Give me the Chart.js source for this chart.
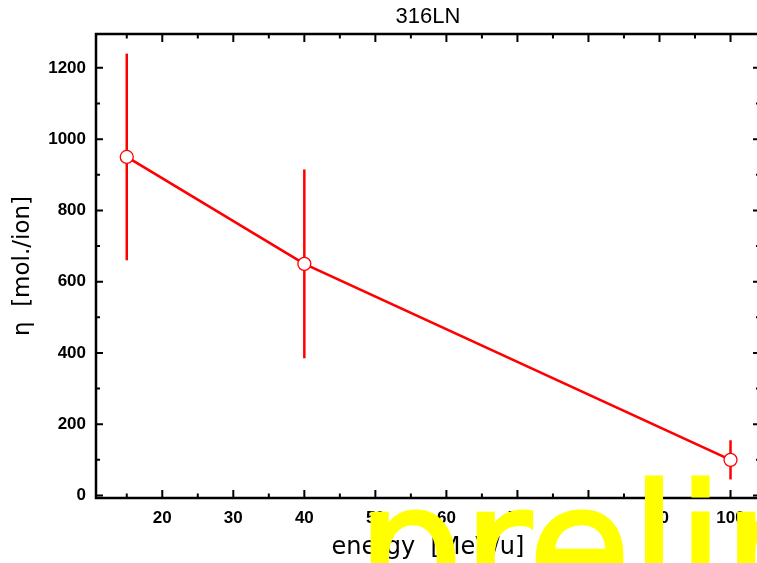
<!DOCTYPE html>
<html>
<head>
<meta charset="utf-8">
<script src="https://cdn.jsdelivr.net/npm/chart.js@4/dist/chart.umd.min.js"></script>
<style>
  html, body { margin: 0; padding: 0; background: #fff; overflow: hidden; }
  #wrap { width: 757px; height: 563px; overflow: hidden; }
</style>
</head>
<body>
<div id="wrap"><canvas id="c" width="760" height="563"></canvas></div>
<script>
// measured points (energy in MeV/u, eta in mol./ion)
const energy = [15, 40, 100];
const eta = [950, 650, 100];
const etaErr = [290, 265, 55];

const X_RANGE = [10.67, 104.15];
const Y_RANGE = [-7, 1295];
const X_STEP = 10;
const Y_STEP = 200;

const TITLE = '316LN';
const X_TITLE = 'energy  [MeV/u]';
const Y_TITLE = 'η  [mol./ion]';
const WATERMARK = 'preliminary';

const RED = '#ff0000';
const TICK_FONT = { family: 'Liberation Sans', size: 17, weight: 'bold' };

// error bars, drawn under the markers
const errorBars = {
  id: 'errorBars',
  beforeDatasetsDraw(chart) {
    const { ctx, scales: { x, y } } = chart;
    ctx.save();
    ctx.strokeStyle = RED;
    ctx.lineWidth = 2.5;
    energy.forEach((e, i) => {
      const px = x.getPixelForValue(e);
      ctx.beginPath();
      ctx.moveTo(px, y.getPixelForValue(eta[i] - etaErr[i]));
      ctx.lineTo(px, y.getPixelForValue(eta[i] + etaErr[i]));
      ctx.stroke();
    });
    ctx.restore();
  },
};

// boxed frame with inward major/minor ticks on all four sides
const frame = {
  id: 'frame',
  afterDraw(chart) {
    const { ctx, chartArea: a, scales: { x, y } } = chart;
    ctx.save();
    ctx.strokeStyle = '#000';
    ctx.lineWidth = 2.5;
    ctx.strokeRect(a.left, a.top, a.right - a.left, a.bottom - a.top);

    ctx.lineWidth = 2;
    const xMajor = x.ticks.map(t => t.value);
    const yMajor = y.ticks.map(t => t.value);
    const xMinor = [xMajor[0] - X_STEP / 2, ...xMajor.map(v => v + X_STEP / 2)]
      .filter(v => v > X_RANGE[0] && v < X_RANGE[1]);
    const yMinor = [yMajor[0] - Y_STEP / 2, ...yMajor.map(v => v + Y_STEP / 2)]
      .filter(v => v > Y_RANGE[0] && v < Y_RANGE[1]);

    const xTick = (v, len) => {
      const px = x.getPixelForValue(v);
      ctx.beginPath();
      ctx.moveTo(px, a.bottom); ctx.lineTo(px, a.bottom - len);
      ctx.moveTo(px, a.top); ctx.lineTo(px, a.top + len);
      ctx.stroke();
    };
    const yTick = (v, len) => {
      const py = y.getPixelForValue(v);
      ctx.beginPath();
      ctx.moveTo(a.left, py); ctx.lineTo(a.left + len, py);
      ctx.moveTo(a.right, py); ctx.lineTo(a.right - len, py);
      ctx.stroke();
    };
    xMajor.forEach(v => xTick(v, 8));
    xMinor.forEach(v => xTick(v, 4.5));
    yMajor.forEach(v => yTick(v, 7));
    yMinor.forEach(v => yTick(v, 4));

    // title centred over the plot box
    ctx.fillStyle = '#000';
    ctx.font = '22px "Liberation Sans"';
    ctx.textAlign = 'center';
    ctx.textBaseline = 'middle';
    ctx.fillText(TITLE, (a.left + a.right) / 2, 17);

    // yellow stamp on top of everything
    ctx.font = '167px "DejaVu Sans"';
    ctx.textAlign = 'left';
    ctx.textBaseline = 'alphabetic';
    ctx.fillStyle = '#ffff00';
    ctx.strokeStyle = '#ffff00';
    ctx.lineWidth = 3;
    ctx.fillText(WATERMARK, 357, 605);
    ctx.strokeText(WATERMARK, 357, 605);
    ctx.restore();
  },
};

new Chart(document.getElementById('c'), {
  type: 'line',
  data: {
    datasets: [{
      data: energy.map((e, i) => ({ x: e, y: eta[i] })),
      borderColor: RED,
      borderWidth: 2.7,
      tension: 0,
      pointRadius: 6.5,
      pointBorderWidth: 1.3,
      pointBackgroundColor: '#fff',
      pointBorderColor: RED,
      clip: false,
    }],
  },
  options: {
    responsive: false,
    animation: false,
    layout: { autoPadding: false, padding: { top: 34, left: 0, right: 0, bottom: 0 } },
    plugins: { legend: { display: false }, tooltip: { enabled: false }, title: { display: false } },
    scales: {
      x: {
        type: 'linear',
        min: X_RANGE[0],
        max: X_RANGE[1],
        grid: { display: false, drawTicks: false },
        border: { display: false },
        ticks: {
          stepSize: X_STEP,
          includeBounds: false,
          autoSkip: false,
          maxRotation: 0,
          padding: 10,
          color: '#000',
          font: TICK_FONT,
          callback: v => String(v),
        },
        title: {
          display: true,
          text: X_TITLE,
          color: '#000',
          font: { family: 'DejaVu Sans', size: 24, lineHeight: 1.2 },
          padding: { top: 0, bottom: 1 },
        },
        afterFit: s => { s.height = 65; s.paddingLeft = 0; s.paddingRight = 0; },
      },
      y: {
        type: 'linear',
        min: Y_RANGE[0],
        max: Y_RANGE[1],
        grid: { display: false, drawTicks: false },
        border: { display: false },
        ticks: {
          stepSize: Y_STEP,
          includeBounds: false,
          autoSkip: false,
          padding: 10,
          color: '#000',
          font: TICK_FONT,
          callback: v => String(v),
        },
        title: {
          display: true,
          text: Y_TITLE,
          color: '#000',
          font: { family: 'DejaVu Sans', size: 23, lineHeight: 1.2 },
          padding: { top: 9, bottom: 0 },
        },
        afterFit: s => { s.width = 96; s.paddingTop = 0; s.paddingBottom = 0; },
      },
    },
  },
  plugins: [errorBars, frame],
});
</script>
</body>
</html>
